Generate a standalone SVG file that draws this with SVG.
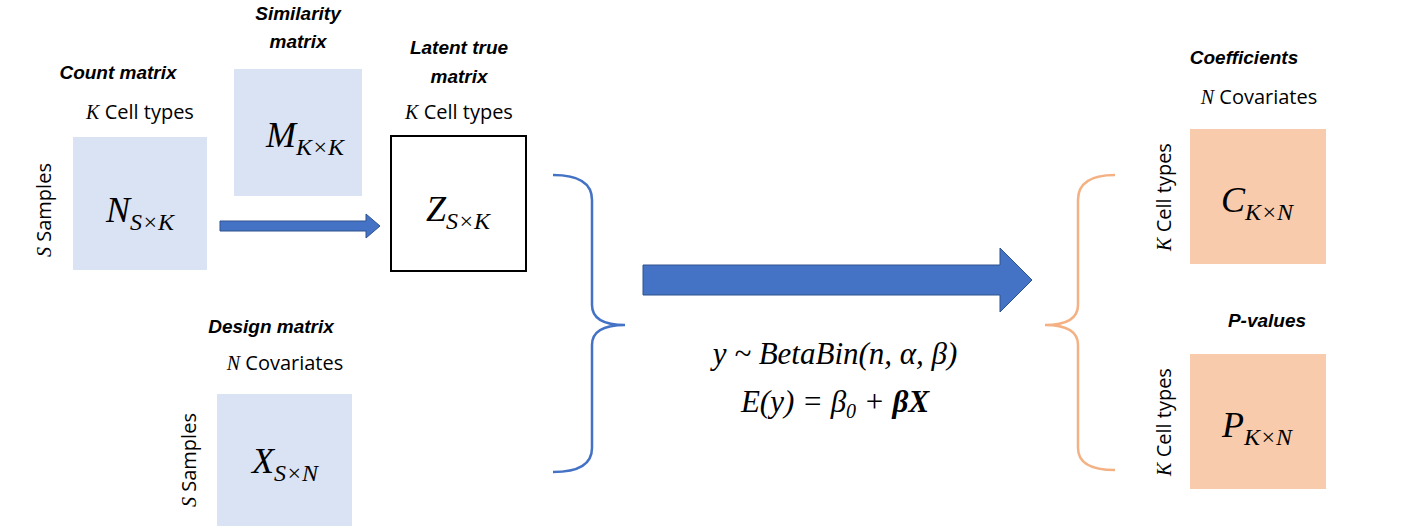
<svg xmlns="http://www.w3.org/2000/svg" width="1417" height="531" viewBox="0 0 1417 531">
<style>
.t{font-family:"Liberation Sans",Arial,sans-serif;font-size:19px;font-weight:bold;font-style:italic;text-anchor:middle;fill:#000}
.l{font-family:"Open Sans","Liberation Sans",sans-serif;font-size:20px;text-anchor:middle;fill:#000}
.m{font-family:"Liberation Serif","DejaVu Serif",serif;font-style:italic;font-size:36px;text-anchor:middle;fill:#000}
.s{font-size:24px}
.f{font-family:"Liberation Serif","DejaVu Serif",serif;font-style:italic;font-size:31px;text-anchor:middle;fill:#000}
.i{font-family:"Liberation Serif",serif;font-style:italic}
.b{fill:#dae3f3}
.o{fill:#f8cbad}
</style>
<rect width="1417" height="531" fill="#fff"/>
<g id="count">
<text class="t" x="118" y="79">Count matrix</text>
<text class="l" x="140" y="119"><tspan class="i">K</tspan> Cell types</text>
<text class="l" transform="translate(51,210) rotate(-90)"><tspan class="i">S</tspan> Samples</text>
<rect class="b" x="73" y="137" width="134" height="133"/>
<text class="m" x="140" y="222">N<tspan class="s" dy="8">S×K</tspan></text>
</g>
<g id="similarity">
<text class="t" x="298" y="20">Similarity</text>
<text class="t" x="298" y="48">matrix</text>
<rect class="b" x="234" y="69" width="128" height="127"/>
<text class="m" x="305" y="147">M<tspan class="s" dy="8">K×K</tspan></text>
</g>
<g id="latent">
<text class="t" x="459" y="54">Latent true</text>
<text class="t" x="459" y="83">matrix</text>
<text class="l" x="459" y="119"><tspan class="i">K</tspan> Cell types</text>
<rect x="391" y="136" width="135" height="135" fill="#fff" stroke="#000" stroke-width="2"/>
<text class="m" x="458" y="221">Z<tspan class="s" dy="8">S×K</tspan></text>
</g>
<g id="design">
<text class="t" x="271" y="333">Design matrix</text>
<text class="l" x="285" y="370"><tspan class="i">N</tspan> Covariates</text>
<text class="l" transform="translate(196,460) rotate(-90)"><tspan class="i">S</tspan> Samples</text>
<rect class="b" x="217" y="394" width="135" height="132"/>
<text class="m" x="285" y="473">X<tspan class="s" dy="8">S×N</tspan></text>
</g>
<g id="formula">
<text class="f" x="835" y="364">y ~ BetaBin(n, α, β)</text>
<text class="f" x="835" y="412">E(y) = β<tspan font-size="20" dy="6">0</tspan><tspan dy="-6"> + </tspan><tspan font-weight="bold">βX</tspan></text>
</g>
<g id="coefficients">
<text class="t" x="1244" y="64">Coefficients</text>
<text class="l" x="1259" y="104"><tspan class="i">N</tspan> Covariates</text>
<text class="l" transform="translate(1171,197) rotate(-90)"><tspan class="i">K</tspan> Cell types</text>
<rect class="o" x="1190" y="129" width="136" height="135"/>
<text class="m" x="1257" y="212">C<tspan class="s" dy="8">K×N</tspan></text>
</g>
<g id="pvalues">
<text class="t" x="1267" y="327">P-values</text>
<text class="l" transform="translate(1171,422) rotate(-90)"><tspan class="i">K</tspan> Cell types</text>
<rect class="o" x="1190" y="354" width="136" height="135"/>
<text class="m" x="1257" y="437">P<tspan class="s" dy="8">K×N</tspan></text>
</g>
<g id="connectors">
<polygon points="220,221 366,221 366,214 380,226 366,238 366,231 220,231" fill="#4472c4" stroke="#2f528f" stroke-width="1"/>
<polygon points="643,265 1000,265 1000,248 1032,280 1000,312 1000,295 643,295" fill="#4472c4" stroke="#2f528f" stroke-width="1"/>
<path d="M553,175 Q592,175 592,200 L592,305 Q592,325 625,325 Q592,325 592,345 L592,448 Q592,472 553,472" fill="none" stroke="#4472c4" stroke-width="2.5"/>
<path d="M1115,175 Q1078,175 1078,200 L1078,305 Q1078,325 1045,325 Q1078,325 1078,345 L1078,448 Q1078,470 1115,470" fill="none" stroke="#f4b183" stroke-width="2.5"/>
</g>
</svg>
